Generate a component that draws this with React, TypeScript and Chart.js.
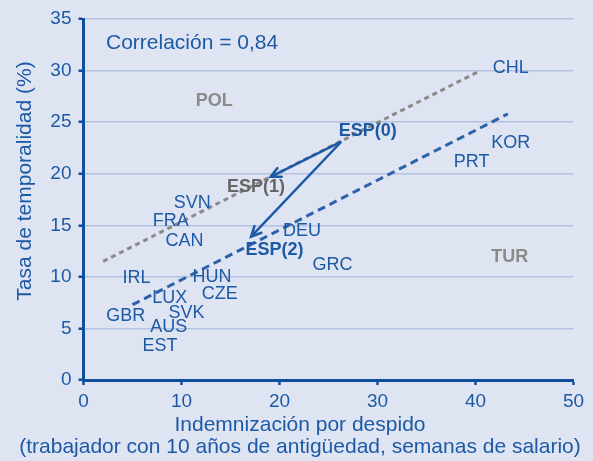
import React, { useEffect, useRef } from 'react';
import { Chart, registerables } from 'chart.js';

Chart.register(...registerables);

// ---- Data ----
const countryLabels = ['CHL', 'KOR', 'PRT', 'POL', 'ESP(0)', 'ESP(1)', 'ESP(2)', 'DEU', 'GRC', 'SVN', 'FRA', 'CAN', 'IRL', 'HUN', 'LUX', 'CZE', 'GBR', 'SVK', 'AUS', 'EST', 'TUR'];
const severanceWeeks = [43.6, 43.6, 39.6, 13.35, 29.0, 17.6, 19.5, 22.3, 25.4, 11.1, 8.9, 10.3, 5.4, 13.1, 8.8, 13.9, 4.3, 10.5, 8.7, 7.8, 43.5];
const temporaryRate = [30.2, 23.0, 21.1, 27.0, 24.1, 18.7, 12.6, 14.4, 11.1, 17.2, 15.4, 13.5, 9.9, 10.0, 7.9, 8.3, 6.2, 6.5, 5.1, 3.3, 11.9];
// style: n = normal blue, g = bold light gray, B = bold blue, G = bold dark gray
const labelStyles = ['n', 'n', 'n', 'g', 'B', 'G', 'B', 'n', 'n', 'n', 'n', 'n', 'n', 'n', 'n', 'n', 'n', 'n', 'n', 'n', 'g'];

const grayTrendX = [2.0, 40.3];
const grayTrendY = [11.5, 29.9];
const blueTrendX = [5.0, 43.3];
const blueTrendY = [7.3, 25.8];

const arrowStart = [26.3, 23.1];
const arrowEnd1 = [19.1, 19.7];
const arrowEnd2 = [17.1, 13.9];

const xTickValues = [0, 10, 20, 30, 40, 50];
const yTickValues = [0, 5, 10, 15, 20, 25, 30, 35];

const correlationText = 'Correlación = 0,84';
const yTitle = 'Tasa de temporalidad (%)';
const xTitle1 = 'Indemnización por despido';
const xTitle2 = '(trabajador con 10 años de antigüedad, semanas de salario)';

// ---- Styles ----
const FONT = '"Liberation Sans", Arial, Helvetica, sans-serif';
const BG = '#dfe4f2';
const BLUE = '#1c5aa5';
const AXIS = '#0f4f9c';
const GRID = '#b4c1e0';
const GRAY = '#8a8a8a';
const DARKGRAY = '#656565';

const pts = (xs: number[], ys: number[]) => xs.map((x, i) => ({ x, y: ys[i] }));

const bgPlugin = {
  id: 'bg',
  beforeDraw(chart: any) {
    const { ctx, width, height } = chart;
    ctx.save();
    ctx.fillStyle = BG;
    ctx.fillRect(0, 0, width, height);
    ctx.restore();
  },
};

const textPlugin = {
  id: 'texts',
  afterDatasetsDraw(chart: any) {
    const ctx = chart.ctx;
    ctx.save();
    // country labels
    const meta = chart.getDatasetMeta(0);
    meta.data.forEach((el: any, i: number) => {
      const s = labelStyles[i];
      const bold = s !== 'n';
      ctx.font = `${bold ? 'bold ' : ''}18px ${FONT}`;
      ctx.fillStyle = s === 'g' ? GRAY : s === 'G' ? DARKGRAY : BLUE;
      ctx.textAlign = 'center';
      ctx.textBaseline = 'middle';
      ctx.fillText(countryLabels[i], el.x, el.y);
    });
    // arrowheads
    chart.data.datasets.forEach((ds: any, di: number) => {
      if (!ds.isArrow) return;
      const m = chart.getDatasetMeta(di);
      const a = m.data[0];
      const b = m.data[1];
      const ang = Math.atan2(b.y - a.y, b.x - a.x);
      const len = 11;
      const spread = 0.45;
      ctx.strokeStyle = BLUE;
      ctx.lineWidth = 2.5;
      ctx.lineCap = 'round';
      ctx.beginPath();
      ctx.moveTo(b.x - len * Math.cos(ang - spread), b.y - len * Math.sin(ang - spread));
      ctx.lineTo(b.x, b.y);
      ctx.lineTo(b.x - len * Math.cos(ang + spread), b.y - len * Math.sin(ang + spread));
      ctx.stroke();
    });
    // correlation
    ctx.font = `21px ${FONT}`;
    ctx.fillStyle = BLUE;
    ctx.textAlign = 'left';
    ctx.textBaseline = 'middle';
    ctx.fillText(correlationText, 106, 43);
    ctx.restore();
  },
  afterDraw(chart: any) {
    const ctx = chart.ctx;
    ctx.save();
    ctx.font = `21px ${FONT}`;
    ctx.fillStyle = BLUE;
    ctx.textAlign = 'center';
    ctx.textBaseline = 'middle';
    ctx.fillText(xTitle1, 300, 425);
    ctx.fillText(xTitle2, 300, 447);
    ctx.translate(25, 181);
    ctx.rotate(-Math.PI / 2);
    ctx.fillText(yTitle, 0, 0);
    ctx.restore();
  },
};

export default function App() {
  const ref = useRef<HTMLCanvasElement | null>(null);
  useEffect(() => {
    if (!ref.current) return;
    const chart = new Chart(ref.current, {
      type: 'scatter',
      data: {
        datasets: [
          {
            data: pts(severanceWeeks, temporaryRate),
            pointRadius: 0,
            showLine: false,
            order: 0,
          } as any,
          {
            data: pts(grayTrendX, grayTrendY),
            showLine: true,
            borderColor: GRAY,
            borderWidth: 3,
            borderDash: [5, 4],
            pointRadius: 0,
            order: 5,
          },
          {
            data: pts(blueTrendX, blueTrendY),
            showLine: true,
            borderColor: '#2e62a8',
            borderWidth: 3,
            borderDash: [8, 5],
            pointRadius: 0,
            order: 5,
          },
          {
            data: [{ x: arrowStart[0], y: arrowStart[1] }, { x: arrowEnd1[0], y: arrowEnd1[1] }],
            showLine: true,
            borderColor: BLUE,
            borderWidth: 2.5,
            pointRadius: 0,
            isArrow: true,
            order: 1,
          } as any,
          {
            data: [{ x: arrowStart[0], y: arrowStart[1] }, { x: arrowEnd2[0], y: arrowEnd2[1] }],
            showLine: true,
            borderColor: BLUE,
            borderWidth: 2.5,
            pointRadius: 0,
            isArrow: true,
            order: 1,
          } as any,
        ],
      },
      options: {
        animation: false,
        responsive: false,
        events: [],
        layout: { padding: { top: 19, right: 19.5, left: 0, bottom: 0 } },
        plugins: { legend: { display: false }, tooltip: { enabled: false } },
        scales: {
          x: {
            type: 'linear',
            min: 0,
            max: 50,
            afterBuildTicks(scale: any) {
              scale.ticks = xTickValues.map((v) => ({ value: v }));
            },
            afterFit(scale: any) {
              scale.height = 81;
            },
            ticks: { color: BLUE, font: { family: FONT, size: 19 }, padding: 5, maxRotation: 0 },
            grid: { drawOnChartArea: false, drawTicks: true, tickLength: 5, tickColor: AXIS, tickWidth: 2.5 },
            border: { color: AXIS, width: 3 },
          },
          y: {
            type: 'linear',
            min: 0,
            max: 35,
            afterBuildTicks(scale: any) {
              scale.ticks = yTickValues.map((v) => ({ value: v }));
            },
            afterFit(scale: any) {
              scale.width = 83.5;
            },
            ticks: { color: BLUE, font: { family: FONT, size: 19 }, padding: 7 },
            grid: { color: GRID, lineWidth: 1.5, drawTicks: true, tickLength: 5, tickColor: AXIS, tickWidth: 2.5 },
            border: { color: AXIS, width: 3 },
          },
        },
      } as any,
      plugins: [bgPlugin, textPlugin],
    });
    return () => chart.destroy();
  }, []);
  return (
    <div style={{ position: 'fixed', left: 0, top: 0, width: 593, height: 461, background: BG }}>
      <canvas ref={ref} width={593} height={461} style={{ display: 'block' }} />
    </div>
  );
}
